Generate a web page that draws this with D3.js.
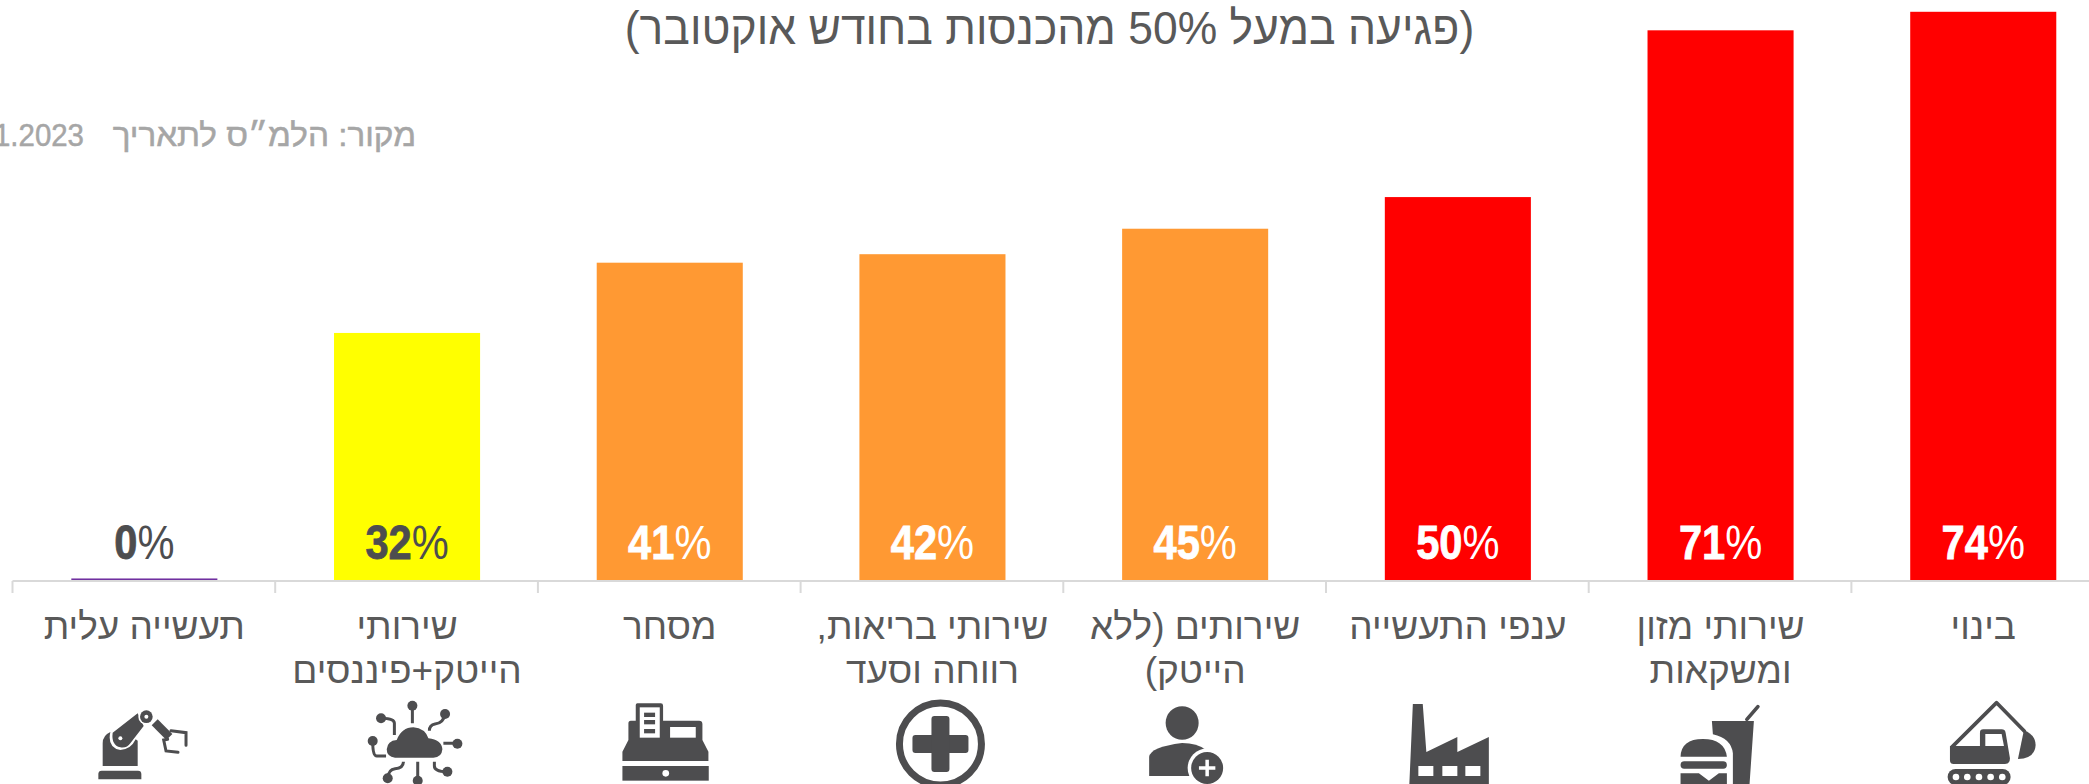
<!DOCTYPE html>
<html lang="he"><head><meta charset="utf-8">
<style>html,body{margin:0;padding:0;background:#fff;overflow:hidden}svg{display:block}</style>
<script src="https://cdn.jsdelivr.net/npm/d3@7/dist/d3.min.js"></script></head><body>
<svg id="c" width="2089" height="784"></svg>
<script>
const categories=["תעשייה עלית","שירותי הייטק+פיננסים","מסחר","שירותי בריאות, רווחה וסעד","שירותים (ללא הייטק)","ענפי התעשייה","שירותי מזון ומשקאות","בינוי"];
const labelLines=[["תעשייה עלית"],["שירותי","הייטק+פיננסים"],["מסחר"],["שירותי בריאות,","רווחה וסעד"],["שירותים (ללא","הייטק)"],["ענפי התעשייה"],["שירותי מזון","ומשקאות"],["בינוי"]];
const values=[0.2,32,41.1,42.2,45.5,49.6,71.2,73.6];
const valueLabels=["0","32","41","42","45","50","71","74"];
const barColors=["#7030a0","#ffff00","#ff9933","#ff9933","#ff9933","#ff0000","#ff0000","#ff0000"];
const labelColors=["#4d4d4f","#4d4d4f","#fff","#fff","#fff","#fff","#fff","#fff"];
const titleText="(פגיעה במעל 50% מהכנסות בחודש אוקטובר)";
const sourceText="מקור: הלמ״ס לתאריך";
const sourceDate="11.2023";
const svg=d3.select("#c");
const x=d3.scaleBand().domain(categories).range([13,2114.6]).paddingInner(0.444).paddingOuter(0.222);
const y=d3.scaleLinear().domain([0,74]).range([580,8.7]);
svg.selectAll("rect.bar").data(categories).join("rect").attr("class","bar")
 .attr("x",d=>x(d)).attr("width",x.bandwidth())
 .attr("y",(d,i)=>y(values[i])).attr("height",(d,i)=>y(0)-y(values[i])).attr("fill",(d,i)=>barColors[i]);
const g=svg.append("g").attr("transform","translate(0,581)");
g.append("line").attr("x1",12.5).attr("x2",2089).attr("stroke","#d9d9d9").attr("stroke-width",2);
const step=x.step();
g.selectAll("line.t").data(d3.range(8)).join("line").attr("class","t")
 .attr("x1",i=>12.5+i*step).attr("x2",i=>12.5+i*step).attr("y2",12).attr("stroke","#d9d9d9").attr("stroke-width",2);
const F="'Liberation Sans'";
const vl=svg.selectAll("text.v").data(categories).join("text").attr("class","v")
 .attr("transform",d=>`translate(${x(d)+x.bandwidth()/2},559) scale(0.85,1)`).attr("text-anchor","middle")
 .attr("fill",(d,i)=>labelColors[i]).attr("font-family",F).attr("font-size",49);
vl.append("tspan").attr("font-weight",700).attr("stroke",(d,i)=>labelColors[i]).attr("stroke-width",0.8).text((d,i)=>valueLabels[i]);
vl.append("tspan").text("%");
labelLines.forEach((ls,i)=>{const cx=x(categories[i])+x.bandwidth()/2;
 ls.forEach((t,j)=>{svg.append("text").attr("class","cat").attr("direction","rtl").attr("text-anchor","middle")
  .attr("transform",`translate(${cx},${639+j*44}) scale(1.0,1)`)
  .attr("font-family",F).attr("font-size",37).attr("fill","#595959").text(t);});});
svg.append("text").attr("direction","rtl").attr("text-anchor","middle").attr("transform","translate(1049.5,44) scale(0.966,1)").attr("font-family",F).attr("font-size",46).attr("fill","#595959").text(titleText);
svg.append("text").attr("direction","rtl").attr("text-anchor","start").attr("transform","translate(416,146) scale(1.04,1)").attr("font-family",F).attr("font-size",32).attr("fill","#a6a6a6").attr("stroke","#a6a6a6").attr("stroke-width",0.5).text(sourceText);
svg.append("text").attr("text-anchor","end").attr("transform","translate(84,146) scale(0.92,1)").attr("font-family",F).attr("font-size",32).attr("fill","#a6a6a6").attr("stroke","#a6a6a6").attr("stroke-width",0.5).text(sourceDate);

// pictograms under each category; paths are in 3x units, origin set relative to the band centre
const C="#4d4d4f";
const icons=[
 {dx:-64,dy:690,s:1/3,draw:q=>{
  q.append("path").attr("d","M54 268V252Q54 242 64 242H173Q183 242 183 252V268Z");
  q.append("path").attr("d","M67 228V160Q67 136 90 126Q80 172 120 180Q152 178 166 148L172 152V228Z");
  q.append("path").attr("d","M97 128L172 70L190 108L150 160Q140 175 120 172Q92 165 97 128Z");
  q.append("circle").attr("cx",120).attr("cy",145).attr("r",6).attr("fill","#fff");
  q.append("circle").attr("cx",198).attr("cy",80).attr("r",24).attr("fill","#fff");
  q.append("circle").attr("cx",198).attr("cy",80).attr("r",19);
  q.append("circle").attr("cx",198).attr("cy",80).attr("r",6).attr("fill","#fff");
  q.append("path").attr("d","M232 88L276 132L258 150L214 106Z");
  q.append("path").attr("d","M272 122L317 128L317 166M262 148L250 150L257 183L293 187").attr("fill","none").attr("stroke",C).attr("stroke-width",9).attr("stroke-linecap","round");
 }},
 {dx:-327,dy:690,s:1/3,draw:q=>{
  q.append("path").attr("d","M945 203Q920 200 920 178Q922 152 950 150Q965 112 1000 112Q1035 115 1045 145Q1085 150 1087 178Q1085 203 1060 203Z");
  q.append("path").attr("d","M997 100V50M943 135V100Q943 85 905 85M1048 122Q1048 105 1065 102Q1090 100 1095 72M1090 160H1130M918 198H890Q878 198 878 155M970 215Q970 235 945 236Q925 238 923 265M1013 215V272M1063 215V228Q1063 245 1100 245").attr("fill","none").attr("stroke",C).attr("stroke-width",9);
  [[997,47],[903,85],[1095,72],[1132,161],[878,153],[923,265],[1013,272],[1102,245]].forEach(p=>q.append("circle").attr("cx",p[0]).attr("cy",p[1]).attr("r",15));
 }},
 {dx:610-669,dy:690,s:1/3,draw:q=>{
  q.append("path").attr("d","M75 45Q75 40 80 40H150Q157 40 157 47V92H265Q275 92 275 102V150L293 185V213H35V185L53 150V100Q53 92 60 92H75Z");
  q.append("rect").attr("x",87).attr("y",52).attr("width",60).attr("height",91).attr("fill","#fff");
  [68,90,117].forEach(v=>q.append("rect").attr("x",100).attr("y",v).attr("width",33).attr("height",13));
  q.append("rect").attr("x",178).attr("y",111).attr("width",77).attr("height",32).attr("fill","#fff");
  q.append("rect").attr("x",35).attr("y",228).attr("width",259).attr("height",44);
  q.append("circle").attr("cx",165).attr("cy",250).attr("r",10).attr("fill","#fff");
 }},
 {dx:8,dy:744,s:1,draw:q=>{
  q.append("circle").attr("r",41).attr("fill","none").attr("stroke",C).attr("stroke-width",7);
  q.append("rect").attr("x",-28).attr("y",-9).attr("width",56).attr("height",18).attr("rx",3);
  q.append("rect").attr("x",-9).attr("y",-28).attr("width",18).attr("height",56).attr("rx",3);
 }},
 {dx:-13,dy:723,s:1,draw:q=>{
  q.append("ellipse").attr("cx",0).attr("cy",0).attr("rx",16.5).attr("ry",16.8);
  q.append("path").attr("d","M-33 53V34Q-32 24 0 20Q15 20 24 27V53Z");
  q.append("circle").attr("cx",25).attr("cy",45).attr("r",19.5).attr("fill","#fff");
  q.append("circle").attr("cx",25).attr("cy",45).attr("r",16);
  q.append("path").attr("d","M16.8 45H33.2M25 36.8V53.2").attr("stroke","#fff").attr("stroke-width",3.5);
 }},
 {dx:-48.5,dy:704,s:1,draw:q=>{
  q.append("path").attr("d","M0 80L3.5 0H13.4L17 48L48 33V48L79.5 33V80Z");
  [9,33,56].forEach(v=>q.append("rect").attr("x",v).attr("y",62).attr("width",15).attr("height",10).attr("fill","#fff"));
 }},
 {dx:1670-1721,dy:690,s:1/3,draw:q=>{
  q.append("path").attr("d","M232 88L265 50").attr("stroke",C).attr("stroke-width",11).attr("stroke-linecap","round");
  q.append("path").attr("d","M127 93H253L240 282H190V190Q185 145 130 133Z");
  q.append("path").attr("d","M33 200Q35 147 100 147Q165 147 172 200Z");
  q.append("rect").attr("x",33).attr("y",214).attr("width",139).attr("height",22).attr("rx",11);
  q.append("path").attr("d","M33 250H88L118 272L148 250H172V282H33Z");
 }},
 {dx:1670-1983.3,dy:690,s:1/3,draw:q=>{
  q.append("path").attr("d","M845 172L980 38L1065 125").attr("fill","none").attr("stroke",C).attr("stroke-width",11).attr("stroke-linejoin","round");
  q.append("path").attr("d","M840 168H930V128Q930 118 940 118H995Q1005 118 1007 128L1020 205Q1020 222 1005 222H850Q840 222 840 210Z");
  q.append("path").attr("d","M946 132H995L1002 168H946Z").attr("fill","#fff");
  q.append("path").attr("d","M1062 120Q1097 135 1097 165Q1095 205 1044 207Z");
  q.append("rect").attr("x",833).attr("y",237).attr("width",189).attr("height",48).attr("rx",24);
  [858,892,927,962,997].forEach(v=>q.append("circle").attr("cx",v).attr("cy",261).attr("r",10).attr("fill","#fff"));
 }}
];
icons.forEach((ic,i)=>{
 const cx=x(categories[i])+x.bandwidth()/2;
 const q=svg.append("g").attr("class","icon").attr("fill",C).attr("transform",`translate(${cx+ic.dx},${ic.dy}) scale(${ic.s})`);
 ic.draw(q);
});
</script></body></html>
